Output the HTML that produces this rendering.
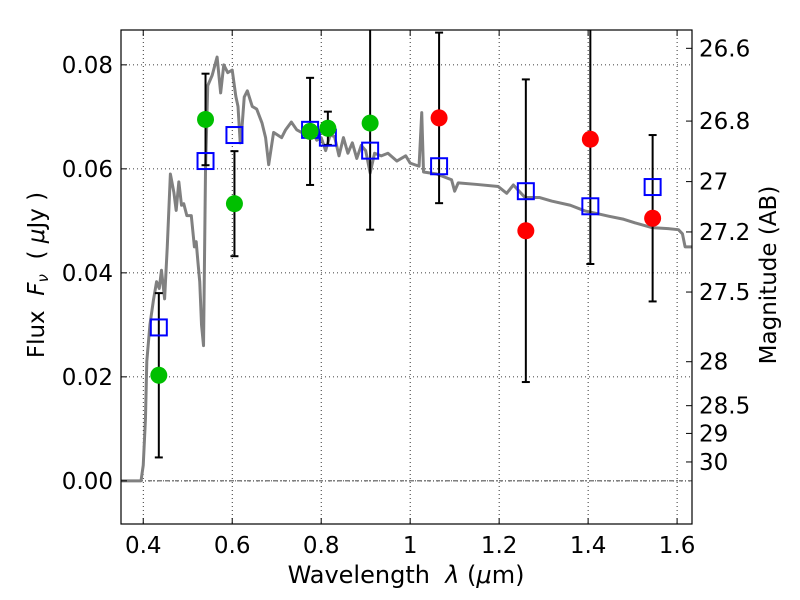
<!DOCTYPE html>
<html><head><meta charset="utf-8"><style>
body{margin:0;background:#fff;}
svg{display:block;font-family:"DejaVu Sans","Liberation Sans",sans-serif;}
</style></head><body>
<svg id="chart" width="800" height="600">
<g id="grid"></g>
<g id="plot"></g>
<g id="axes"></g>
<text x="406" y="583" text-anchor="middle" font-size="24">Wavelength&#160; <tspan font-style="italic">λ</tspan> (<tspan font-style="italic">μ</tspan>m)</text>
<text transform="translate(44,275) rotate(-90)" text-anchor="middle" font-size="23">Flux&#160; <tspan font-style="italic">F</tspan><tspan font-style="italic" font-size="15" dy="4">ν</tspan><tspan dy="-4">&#160; ( </tspan><tspan font-style="italic">μ</tspan>Jy )</text>
<text transform="translate(776,275) rotate(-90)" text-anchor="middle" font-size="23">Magnitude (AB)</text>
</svg>
<script>
const specLam=[0.35,0.395,0.40,0.405,0.408,0.415,0.423,0.43,0.436,0.441,0.448,0.454,0.461,0.469,0.474,0.48,0.486,0.491,0.498,0.508,0.515,0.519,0.523,0.527,0.531,0.5355,0.54,0.545,0.555,0.566,0.574,0.581,0.59,0.6,0.608,0.613,0.618,0.622,0.627,0.634,0.645,0.655,0.667,0.675,0.682,0.693,0.702,0.711,0.72,0.733,0.745,0.76,0.775,0.79,0.8,0.81,0.82,0.83,0.84,0.85,0.86,0.87,0.88,0.89,0.9,0.91,0.92,0.935,0.95,0.97,0.99,1.0,1.02,1.026,1.03,1.06,1.093,1.1,1.108,1.15,1.198,1.217,1.232,1.258,1.29,1.318,1.36,1.393,1.42,1.446,1.48,1.506,1.543,1.58,1.603,1.612,1.618,1.636];
const specFlux=[0,0,0.003,0.012,0.023,0.03,0.0348,0.0383,0.037,0.0405,0.035,0.045,0.059,0.0554,0.052,0.0575,0.053,0.0533,0.051,0.051,0.045,0.046,0.042,0.0383,0.03,0.026,0.06,0.076,0.078,0.0815,0.0746,0.08,0.0785,0.079,0.074,0.072,0.065,0.068,0.0738,0.075,0.072,0.0715,0.0688,0.066,0.0608,0.067,0.0665,0.066,0.0675,0.069,0.0675,0.0668,0.068,0.0655,0.066,0.0635,0.0665,0.0662,0.0625,0.066,0.063,0.065,0.062,0.0645,0.0635,0.0592,0.063,0.0625,0.063,0.0615,0.0625,0.0611,0.0605,0.0708,0.0594,0.059,0.0579,0.0557,0.0573,0.057,0.0566,0.0553,0.0569,0.0545,0.0545,0.0538,0.053,0.0519,0.0514,0.0509,0.0503,0.0496,0.0487,0.0485,0.0483,0.0475,0.045,0.045];
const optLam=[0.435,0.54,0.605,0.775,0.815,0.91];
const optFlux=[0.0203,0.0695,0.0533,0.0672,0.0678,0.0688];
const optErr=[0.0158,0.0088,0.0101,0.0103,0.0032,0.0205];
const nirLam=[1.065,1.26,1.405,1.545];
const nirFlux=[0.0698,0.0481,0.0657,0.0505];
const nirErr=[0.0164,0.0291,0.024,0.016];
const modelLam=[0.435,0.54,0.605,0.775,0.815,0.91,1.065,1.26,1.405,1.545];
const modelFlux=[0.0295,0.0615,0.0665,0.0675,0.066,0.0635,0.0605,0.0557,0.0528,0.0565];
const xTicks=[0.4,0.6,0.8,1.0,1.2,1.4,1.6];
const xTickLabels=["0.4","0.6","0.8","1","1.2","1.4","1.6"];
const yTicks=[0,0.02,0.04,0.06,0.08];
const yTickLabels=["0.00","0.02","0.04","0.06","0.08"];
const magTicks=[26.6,26.8,27,27.2,27.5,28,28.5,29,30];
const magLabels=["26.6","26.8","27","27.2","27.5","28","28.5","29","30"];

const L=121,R=692,T=30,B=524;
const xmin=0.35,xmax=1.6335,ymin=-0.0083,ymax=0.0867;
const X=v=>L+(v-xmin)/(xmax-xmin)*(R-L);
const Y=v=>B-(v-ymin)/(ymax-ymin)*(B-T);
const NS="http://www.w3.org/2000/svg";
function mk(parent,tag,attrs,text){const e=document.createElementNS(NS,tag);for(const k in attrs)e.setAttribute(k,attrs[k]);if(text!==undefined)e.textContent=text;parent.appendChild(e);return e;}
const grid=document.getElementById('grid'),plot=document.getElementById('plot'),axes=document.getElementById('axes');

xTicks.forEach((t,i)=>{
 const g=mk(grid,'line',{x1:X(t),x2:X(t),y1:T,y2:B,stroke:'#000','stroke-width':0.8,'stroke-dasharray':'1,3'});
 
 
});
yTicks.forEach((t,i)=>{
 const g=mk(grid,'line',{x1:L,x2:R,y1:Y(t),y2:Y(t),stroke:'#000','stroke-width':0.8,'stroke-dasharray':'1,3'});
 
 
});
const zl=mk(grid,'line',{x1:L,x2:R,y1:Y(0),y2:Y(0),stroke:'#000','stroke-width':0.8,'stroke-dasharray':'4,2,1,2'});



const defs=mk(plot,'defs',{});const cp=mk(defs,'clipPath',{id:'clip'});mk(cp,'rect',{x:L,y:T,width:R-L,height:B-T});
const pg=mk(plot,'g',{'clip-path':'url(#clip)'});

const sp=mk(pg,'polyline',{points:specLam.map((l,i)=>X(l)+','+Y(specFlux[i])).join(' '),fill:'none',stroke:'#808080','stroke-width':3,'stroke-linejoin':'round'});



function errbar(l,f,e){
 const g=mk(pg,'g',{});
 
 
 const x=X(l),y1=Y(f+e),y2=Y(f-e);
 mk(g,'line',{x1:x,x2:x,y1:y1,y2:y2,stroke:'#000','stroke-width':2});
 mk(g,'line',{x1:x-4,x2:x+4,y1:y1,y2:y1,stroke:'#000','stroke-width':2});
 mk(g,'line',{x1:x-4,x2:x+4,y1:y2,y2:y2,stroke:'#000','stroke-width':2});
}
optLam.forEach((l,i)=>errbar(l,optFlux[i],optErr[i]));
nirLam.forEach((l,i)=>errbar(l,nirFlux[i],nirErr[i]));
modelLam.forEach((l,i)=>{
 const r=mk(pg,'rect',{x:X(l)-8,y:Y(modelFlux[i])-8,width:16,height:16,fill:'none',stroke:'#0000ff','stroke-width':2});
 
 
});
optLam.forEach((l,i)=>{
 const c=mk(pg,'circle',{cx:X(l),cy:Y(optFlux[i]),r:8.5,fill:'#00bf00'});
 
 
});
nirLam.forEach((l,i)=>{
 const c=mk(pg,'circle',{cx:X(l),cy:Y(nirFlux[i]),r:8.5,fill:'#ff0000'});
 
 
});

const fr=mk(axes,'rect',{x:L,y:T,width:R-L,height:B-T,fill:'none',stroke:'#000','stroke-width':1.2});


xTicks.forEach((t,i)=>{
 mk(axes,'line',{x1:X(t),x2:X(t),y1:B,y2:B-6,stroke:'#000'});
 mk(axes,'line',{x1:X(t),x2:X(t),y1:T,y2:T+6,stroke:'#000'});
 const tx=mk(axes,'text',{x:X(t),y:B+29,'text-anchor':'middle','font-size':23},xTickLabels[i]);
 
 
});
yTicks.forEach((t,i)=>{
 mk(axes,'line',{x1:L,x2:L+6,y1:Y(t),y2:Y(t),stroke:'#000'});
 const tx=mk(axes,'text',{x:L-8,y:Y(t)+8,'text-anchor':'end','font-size':23},yTickLabels[i]);
 
 
});
magTicks.forEach((m,i)=>{
 const f=Math.pow(10,(23.9-m)/2.5);
 mk(axes,'line',{x1:R,x2:R-6,y1:Y(f),y2:Y(f),stroke:'#000'});
 const tx=mk(axes,'text',{x:R+7,y:Y(f)+8,'text-anchor':'start','font-size':23},magLabels[i]);
 
 
});
</script>
</body></html>
